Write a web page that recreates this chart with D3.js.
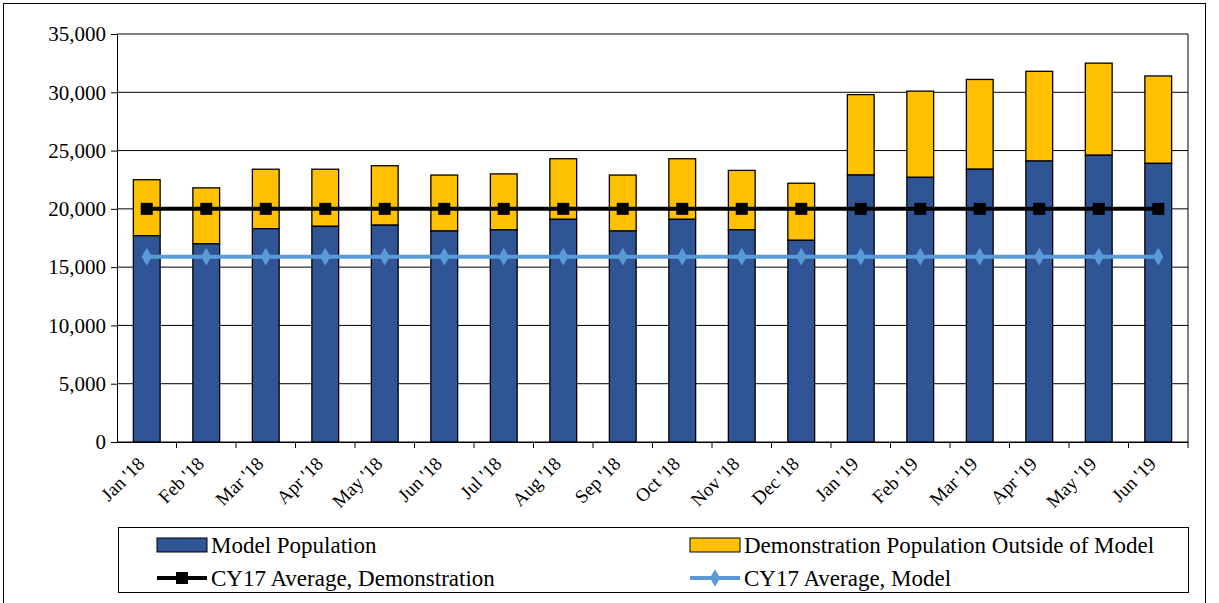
<!DOCTYPE html>
<meta charset="utf-8">
<title>Population</title>
<style>
body { margin: 0; background: #fff; }
svg text { font-family: "Liberation Serif", "DejaVu Serif", serif !important; fill: #000; }
</style>
<svg id="chart" width="1219" height="603"></svg>
<script src="https://cdn.jsdelivr.net/npm/d3@7"></script>
<script>

// months on the x axis
var months = ["Jan '18","Feb '18","Mar '18","Apr '18","May '18","Jun '18","Jul '18","Aug '18","Sep '18",
  "Oct '18","Nov '18","Dec '18","Jan '19","Feb '19","Mar '19","Apr '19","May '19","Jun '19"];
// model population (blue part of bar)
var model = [17700,17000,18300,18500,18600,18100,18200,19100,18100,19100,18200,17300,22900,22700,23400,24100,24600,23900];
// demonstration total (top of yellow part)
var total = [22500,21800,23400,23400,23700,22900,23000,24300,22900,24300,23300,22200,29800,30100,31100,31800,32500,31400];
var avgDemo = 20000;
var avgModel = 15900;
var yTicks = [0,5000,10000,15000,20000,25000,30000,35000];

var svg = d3.select("#chart");
svg.append("rect").attr("x", 3.5).attr("y", 3.5).attr("width", 1202).attr("height", 610)
    .attr("fill", "none").attr("stroke", "#000");

var L = 117, R = 1188, T = 34, B = 442;
var x = d3.scaleBand().domain(months).range([L, R]).paddingInner(0.55).paddingOuter(0.275);
var y = d3.scaleLinear().domain([0, 35000]).range([B, T]);

// grid
svg.append("g").selectAll("line").data(yTicks).enter().append("line")
    .attr("x1", L).attr("x2", R).attr("y1", y).attr("y2", y)
    .attr("stroke", "#000").attr("stroke-width", 1);
svg.append("line").attr("x1", R).attr("x2", R).attr("y1", T).attr("y2", B).attr("stroke", "#000");

// y axis
var ya = svg.append("g").attr("transform", "translate(" + L + ",0)")
    .call(d3.axisLeft(y).tickValues(yTicks).tickSize(6).tickFormat(d3.format(",")));
ya.attr("font-size", 21).attr("font-family", null);
ya.selectAll("text").attr("dx", "-2");
ya.selectAll("line, path").attr("stroke", "#000");

// x axis
var xa = svg.append("g").attr("transform", "translate(0," + B + ")")
    .call(d3.axisBottom(x).tickSize(6).tickSizeOuter(0));
xa.attr("font-size", 19).attr("font-family", null);
xa.selectAll("line").attr("transform", "translate(" + (x.step() / 2) + ",0)");
xa.selectAll("line, path").attr("stroke", "#000");
xa.selectAll("text").attr("text-anchor", "end")
    .attr("transform", "translate(-12,12) rotate(-45)").attr("dy", "0.35em");

// bars
var bars = svg.append("g").selectAll("g").data(months).enter().append("g");
bars.append("rect").attr("x", function(d) { return x(d); })
    .attr("y", function(d, i) { return y(total[i]); })
    .attr("width", x.bandwidth())
    .attr("height", function(d, i) { return y(model[i]) - y(total[i]); })
    .attr("fill", "#ffc000").attr("stroke", "#000").attr("stroke-width", 1.3);
bars.append("rect").attr("x", function(d) { return x(d); })
    .attr("y", function(d, i) { return y(model[i]); })
    .attr("width", x.bandwidth())
    .attr("height", function(d, i) { return B - y(model[i]); })
    .attr("fill", "#2f5597").attr("stroke", "#000").attr("stroke-width", 1.3);

function cx(d) { return x(d) + x.bandwidth() / 2; }
var first = cx(months[0]), last = cx(months[months.length - 1]);

// average lines
svg.append("line").attr("x1", first).attr("x2", last).attr("y1", y(avgModel)).attr("y2", y(avgModel))
    .attr("stroke", "#5b9bd5").attr("stroke-width", 4);
svg.append("g").selectAll("path").data(months).enter().append("path")
    .attr("d", d3.symbol(d3.symbolDiamond, 90))
    .attr("transform", function(d) { return "translate(" + cx(d) + "," + y(avgModel) + ")"; })
    .attr("fill", "#5b9bd5");
svg.append("line").attr("x1", first).attr("x2", last).attr("y1", y(avgDemo)).attr("y2", y(avgDemo))
    .attr("stroke", "#000").attr("stroke-width", 4);
svg.append("g").selectAll("rect").data(months).enter().append("rect")
    .attr("x", function(d) { return cx(d) - 6; }).attr("y", y(avgDemo) - 6)
    .attr("width", 12).attr("height", 12).attr("fill", "#000");

// legend
var lg = svg.append("g");
lg.append("rect").attr("x", 118.5).attr("y", 527.5).attr("width", 1070).attr("height", 65)
    .attr("fill", "none").attr("stroke", "#000");
var items = [
  {label: "Model Population", type: "bar", color: "#2f5597", x: 157, y: 545},
  {label: "Demonstration Population Outside of Model", type: "bar", color: "#ffc000", x: 690, y: 545},
  {label: "CY17 Average, Demonstration", type: "sq", color: "#000", x: 157, y: 578},
  {label: "CY17 Average, Model", type: "dia", color: "#5b9bd5", x: 690, y: 578}
];
items.forEach(function(it) {
  if (it.type === "bar") {
    lg.append("rect").attr("x", it.x).attr("y", it.y - 7).attr("width", 50).attr("height", 14)
      .attr("fill", it.color).attr("stroke", "#000");
  } else {
    lg.append("line").attr("x1", it.x).attr("x2", it.x + 50).attr("y1", it.y).attr("y2", it.y)
      .attr("stroke", it.color).attr("stroke-width", 4);
    if (it.type === "sq") lg.append("rect").attr("x", it.x + 19).attr("y", it.y - 6).attr("width", 12).attr("height", 12).attr("fill", "#000");
    else lg.append("path").attr("d", d3.symbol(d3.symbolDiamond, 90)).attr("transform", "translate(" + (it.x + 25) + "," + it.y + ")").attr("fill", it.color);
  }
  lg.append("text").attr("x", it.x + 54).attr("y", it.y).attr("dy", "0.35em")
    .attr("font-size", 23).text(it.label);
});

</script>
